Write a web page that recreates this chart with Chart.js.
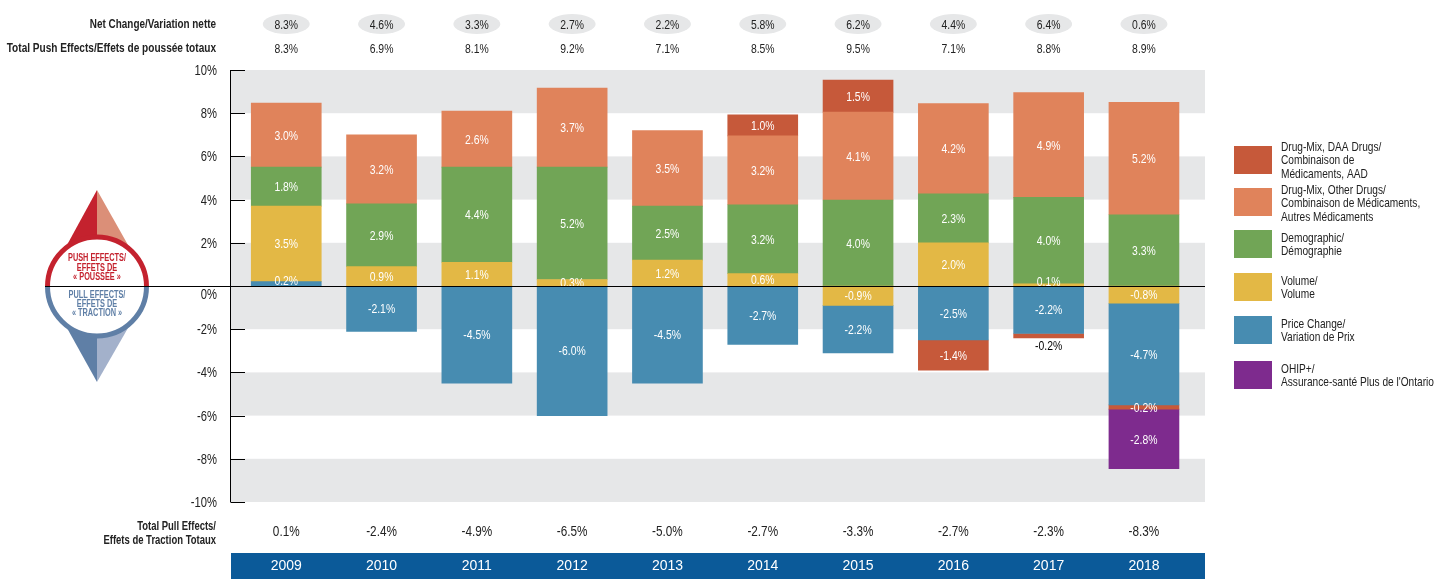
<!DOCTYPE html>
<html>
<head>
<meta charset="utf-8">
<title>Push and pull effects 2009-2018</title>
<script src="https://cdn.jsdelivr.net/npm/chart.js@4/dist/chart.umd.min.js"></script>
<style>
html, body { margin: 0; padding: 0; background: #fff; overflow: hidden; }
canvas { display: block; }
</style>
</head>
<body>
<canvas id="chart" width="1442" height="586"></canvas>
<script>
const years = ['2009', '2010', '2011', '2012', '2013', '2014', '2015', '2016', '2017', '2018'];

const priceUp = [0.2, null, null, null, null, null, null, null, null, null];
const volume = [3.5, 0.9, 1.1, 0.3, 1.2, 0.57, -0.9, 2.0, 0.1, -0.8];
const demographic = [1.8, 2.9, 4.4, 5.2, 2.5, 3.19, 3.98, 2.27, 4.0, 3.3];
const drugOther = [2.97, 3.2, 2.6, 3.66, 3.5, 3.19, 4.07, 4.17, 4.86, 5.2];
const priceDown = [null, -2.1, -4.5, -6.0, -4.5, -2.7, -2.2, -2.5, -2.2, -4.7];
const drugDaa = [null, null, null, null, null, 0.97, 1.48, -1.4, -0.2, -0.2];
const ohip = [null, null, null, null, null, null, null, null, null, -2.76];

const netChange = ['8.3%', '4.6%', '3.3%', '2.7%', '2.2%', '5.8%', '6.2%', '4.4%', '6.4%', '0.6%'];
const pushTotals = ['8.3%', '6.9%', '8.1%', '9.2%', '7.1%', '8.5%', '9.5%', '7.1%', '8.8%', '8.9%'];
const pullTotals = ['0.1%', '-2.4%', '-4.9%', '-6.5%', '-5.0%', '-2.7%', '-3.3%', '-2.7%', '-2.3%', '-8.3%'];

const RED = '#c6593a', ORANGE = '#e0835b', GREEN = '#71a556', YELLOW = '#e3b845', BLUE = '#478cb1', PURPLE = '#7e2b8e';
const GRAY = '#e6e7e8';
const FONT = '"Liberation Sans", sans-serif';

const legendRows = [
    { color: RED, top: 146, lines: ['Drug-Mix, DAA Drugs/', 'Combinaison de', 'Médicaments, AAD'], y: 146 },
    { color: ORANGE, top: 188, lines: ['Drug-Mix, Other Drugs/', 'Combinaison de Médicaments,', 'Autres Médicaments'], y: 189 },
    { color: GREEN, top: 230, lines: ['Demographic/', 'Démographie'], y: 237 },
    { color: YELLOW, top: 273, lines: ['Volume/', 'Volume'], y: 280 },
    { color: BLUE, top: 316, lines: ['Price Change/', 'Variation de Prix'], y: 323 },
    { color: PURPLE, top: 361, lines: ['OHIP+/', 'Assurance-santé Plus de l\'Ontario'], y: 368 }
];

// no condensed face is installed, so squeeze the text horizontally
function text(c, str, x, y, font, color, align, squeeze) {
    c.save();
    c.translate(x, y + 1);
    c.scale(squeeze || 0.8, 1);
    c.font = font;
    c.fillStyle = color;
    c.textAlign = align || 'center';
    c.textBaseline = 'middle';
    c.fillText(str, 0, 0);
    c.restore();
}

// grey bands and the year strip go under everything
const backdrop = {
    id: 'backdrop',
    beforeDraw(chart) {
        const c = chart.ctx, y = chart.scales.y;
        c.save();
        c.fillStyle = GRAY;
        [[10, 8], [6, 4], [2, -2], [-4, -6], [-8, -10]].forEach(([a, b]) => {
            c.fillRect(231, y.getPixelForValue(a), 974, y.getPixelForValue(b) - y.getPixelForValue(a));
        });
        c.fillStyle = '#0b5a99';
        c.fillRect(231, 553, 974, 26);
        c.restore();
    }
};

function drawBadge(c) {
    const cx = 97, cy = 286.5;
    c.save();
    c.fillStyle = '#c4222e';
    c.beginPath(); c.moveTo(cx, 190); c.lineTo(67, 245); c.lineTo(cx, 245); c.fill();
    c.fillStyle = '#db8f78';
    c.beginPath(); c.moveTo(cx, 190); c.lineTo(128, 245); c.lineTo(cx, 245); c.fill();
    c.fillStyle = '#5f7fa6';
    c.beginPath(); c.moveTo(cx, 382); c.lineTo(67, 328); c.lineTo(cx, 328); c.fill();
    c.fillStyle = '#a3b1cb';
    c.beginPath(); c.moveTo(cx, 382); c.lineTo(128, 328); c.lineTo(cx, 328); c.fill();
    c.fillStyle = '#fff';
    c.beginPath(); c.arc(cx, cy, 49, 0, Math.PI * 2); c.fill();
    c.lineWidth = 5;
    c.strokeStyle = '#c4222e';
    c.beginPath(); c.arc(cx, cy, 49.5, Math.PI, 0); c.stroke();
    c.strokeStyle = '#5f7fa6';
    c.beginPath(); c.arc(cx, cy, 49.5, 0, Math.PI); c.stroke();
    c.restore();
    const f = 'bold 10.5px ' + FONT;
    ['PUSH EFFECTS/', 'EFFETS DE', '« POUSSÉE »'].forEach((s, i) => text(c, s, cx, 257.5 + i * 9.3, f, '#c4222e', 'center', 0.7));
    ['PULL EFFECTS/', 'EFFETS DE', '« TRACTION »'].forEach((s, i) => text(c, s, cx, 294 + i * 9.3, f, '#5f7fa6', 'center', 0.7));
}

const annotations = {
    id: 'annotations',
    afterDraw(chart) {
        const c = chart.ctx, x = chart.scales.x, y = chart.scales.y;
        c.save();

        // value labels in the middle of each segment
        chart.data.datasets.forEach((ds, d) => {
            chart.getDatasetMeta(d).data.forEach((bar, i) => {
                const v = ds.data[i];
                if (v === null) return;
                let ly = (bar.y + bar.base) / 2, color = '#fff';
                if (v > 0 && v < 0.25) ly -= 3;
                if (years[i] === '2017' && ds.label === 'daa') { ly += 10; color = '#000'; }
                text(c, v.toFixed(1) + '%', bar.x, ly, '13px ' + FONT, color);
            });
        });

        // y axis with its inward ticks and labels, 0% sits below the zero line
        c.strokeStyle = '#000';
        c.lineWidth = 1;
        c.beginPath();
        c.moveTo(230.5, y.top); c.lineTo(230.5, y.bottom);
        y.ticks.forEach(t => {
            if (t.value === 0) return;
            const py = Math.round(y.getPixelForValue(t.value)) + 0.5;
            c.moveTo(230.5, py); c.lineTo(245, py);
            text(c, t.value + '%', 217, py, '14px ' + FONT, '#222', 'right');
        });
        c.stroke();

        drawBadge(c);

        c.beginPath();
        const zero = Math.round(y.getPixelForValue(0)) + 0.5;
        c.moveTo(45, zero); c.lineTo(1205, zero);
        c.stroke();
        text(c, '0%', 217, zero + 8, '14px ' + FONT, '#222', 'right');

        // rows above and below the plot
        years.forEach((yr, i) => {
            const px = x.getPixelForValue(i);
            c.fillStyle = GRAY;
            c.beginPath(); c.ellipse(px, 24, 23.5, 10, 0, 0, Math.PI * 2); c.fill();
            text(c, netChange[i], px, 24, '13px ' + FONT, '#222');
            text(c, pushTotals[i], px, 48, '13px ' + FONT, '#222');
            text(c, pullTotals[i], px, 531, '14px ' + FONT, '#222', 'center', 0.84);
        });
        const bold = 'bold 12px ' + FONT;
        text(c, 'Net Change/Variation nette', 216, 24, bold, '#222', 'right', 0.826);
        text(c, 'Total Push Effects/Effets de poussée totaux', 216, 48, bold, '#222', 'right', 0.84);
        text(c, 'Total Pull Effects/', 216, 526, bold, '#222', 'right', 0.79);
        text(c, 'Effets de Traction Totaux', 216, 540, bold, '#222', 'right', 0.79);

        // legend
        legendRows.forEach(row => {
            c.fillStyle = row.color;
            c.fillRect(1234, row.top, 38, 28);
            row.lines.forEach((s, i) => text(c, s, 1281, row.y + i * 13.5, '13px ' + FONT, '#222', 'left', 0.78));
        });
        c.restore();
    }
};

function series(label, data, color) {
    return { label: label, data: data, backgroundColor: color, stack: 'all', barThickness: 70 };
}

new Chart(document.getElementById('chart').getContext('2d'), {
    type: 'bar',
    data: {
        labels: years,
        datasets: [
            series('priceUp', priceUp, BLUE),
            series('volume', volume, YELLOW),
            series('demographic', demographic, GREEN),
            series('drugOther', drugOther, ORANGE),
            series('priceDown', priceDown, BLUE),
            series('daa', drugDaa, RED),
            series('ohip', ohip, PURPLE)
        ]
    },
    plugins: [backdrop, annotations],
    options: {
        responsive: false,
        animation: false,
        layout: { padding: { top: 70, right: 250.4, left: 0, bottom: 0 } },
        plugins: { legend: { display: false }, tooltip: { enabled: false } },
        scales: {
            x: {
                stacked: true,
                grid: { display: false, drawTicks: false },
                border: { display: false },
                ticks: { color: '#fff', font: { family: FONT, size: 14 }, padding: 56, maxRotation: 0 },
                afterFit: s => { s.height = 84; }
            },
            y: {
                stacked: true,
                min: -10,
                max: 10,
                grid: { display: false, drawTicks: false },
                border: { display: false },
                ticks: { stepSize: 2, display: false },
                afterFit: s => { s.width = 238.6; }
            }
        }
    }
});
</script>
</body>
</html>
